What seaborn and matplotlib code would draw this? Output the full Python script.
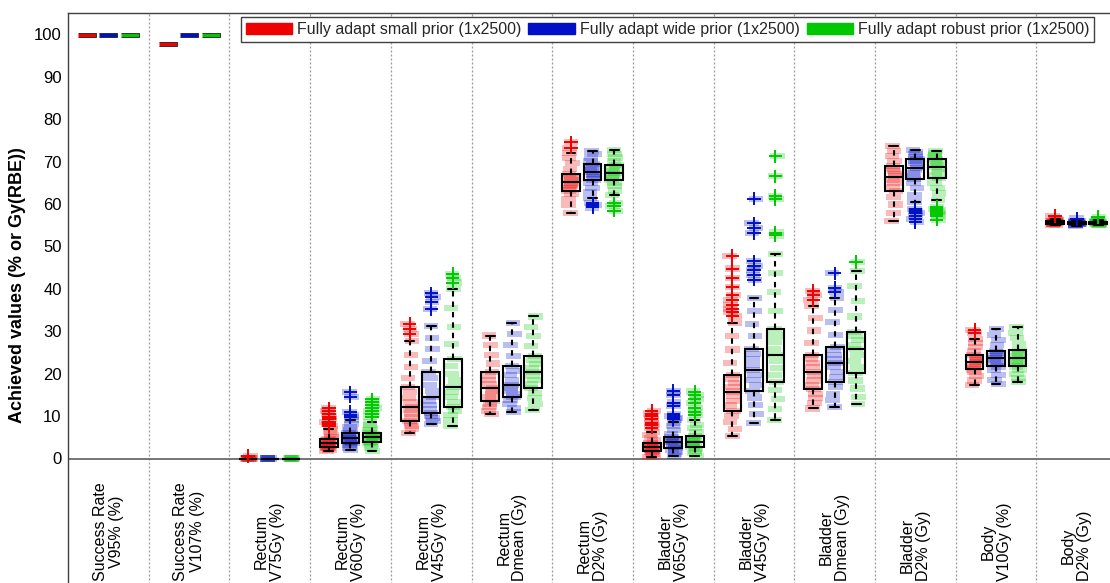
import numpy as np
import pandas as pd
import matplotlib
matplotlib.use("Agg")
import matplotlib.pyplot as plt
from matplotlib.patches import Patch
import seaborn as sns

# ---------------- data ----------------
CATEGORIES = [
    "Success Rate\nV95% (%)", "Success Rate\nV107% (%)",
    "Rectum\nV75Gy (%)", "Rectum\nV60Gy (%)", "Rectum\nV45Gy (%)",
    "Rectum\nDmean (Gy)", "Rectum\nD2% (Gy)",
    "Bladder\nV65Gy (%)", "Bladder\nV45Gy (%)", "Bladder\nDmean (Gy)",
    "Bladder\nD2% (Gy)", "Body\nV10Gy (%)", "Body\nD2% (Gy)",
]
SERIES = [
    "Fully adapt small prior (1x2500)",
    "Fully adapt wide prior (1x2500)",
    "Fully adapt robust prior (1x2500)",
]
SUCCESS_CATS = CATEGORIES[:2]

# sampled values (within whiskers) per category, per series
SMALL_CORE = [
    [100.0],
    [97.7],
    [0.0, 0.0, 0.0, 0.0, 0.0],
    [1.8, 2.1, 2.4, 2.6, 2.8, 3.0, 3.2, 3.4, 3.6, 3.8, 4.0, 4.3, 4.5, 5.0, 5.6, 6.3, 7.0],
    [6.1, 6.9, 7.6, 8.3, 8.9, 9.7, 10.6, 11.4, 12.2, 13.2, 14.3, 15.6, 16.9, 19.0, 21.5, 24.5, 27.7],
    [10.4, 11.3, 12.1, 12.9, 13.6, 14.4, 15.1, 15.9, 16.6, 17.5, 18.5, 19.4, 20.4, 22.4, 24.5, 26.7, 29.0],
    [58.0, 59.8, 61.2, 62.3, 63.2, 63.7, 64.2, 64.6, 65.1, 65.6, 66.1, 66.6, 67.1, 68.3, 69.6, 70.9, 72.1],
    [0.3, 0.7, 1.1, 1.5, 1.8, 2.1, 2.3, 2.6, 2.8, 3.0, 3.2, 3.5, 3.7, 4.3, 4.9, 5.5, 6.2],
    [5.3, 7.0, 8.6, 10.0, 11.3, 12.5, 13.6, 14.7, 15.8, 16.8, 17.8, 18.7, 19.7, 22.6, 25.7, 28.9, 32.0],
    [11.8, 13.0, 14.2, 15.3, 16.3, 17.4, 18.4, 19.5, 20.5, 21.5, 22.5, 23.4, 24.4, 27.3, 30.2, 33.1, 36.0],
    [56.1, 58.0, 59.9, 61.6, 63.1, 64.0, 64.9, 65.7, 66.5, 67.1, 67.8, 68.4, 69.0, 70.2, 71.4, 72.6, 73.8],
    [17.3, 18.4, 19.4, 20.3, 21.0, 21.5, 21.9, 22.4, 22.8, 23.2, 23.6, 24.0, 24.4, 25.3, 26.2, 27.2, 28.1],
    [55.1, 55.2, 55.3, 55.35, 55.4, 55.5, 55.55, 55.6, 55.7, 55.75, 55.8, 55.9, 56.0, 56.1, 56.2, 56.3, 56.4],
]
WIDE_CORE = [
    [100.0],
    [100.0],
    [0.0, 0.0, 0.0, 0.0, 0.0],
    [2.0, 2.6, 3.1, 3.4, 3.7, 4.0, 4.3, 4.5, 4.8, 5.1, 5.4, 5.7, 6.0, 6.6, 7.3, 8.2, 9.1],
    [8.1, 8.8, 9.5, 10.1, 10.7, 11.6, 12.6, 13.6, 14.6, 16.0, 17.4, 18.9, 20.4, 23.0, 25.8, 28.5, 31.3],
    [10.9, 11.9, 12.9, 13.8, 14.6, 15.3, 16.0, 16.6, 17.3, 18.4, 19.6, 20.7, 21.8, 24.2, 26.7, 29.3, 32.0],
    [61.5, 62.8, 63.9, 64.9, 65.8, 66.3, 66.8, 67.2, 67.6, 68.0, 68.5, 68.9, 69.4, 70.2, 71.0, 71.8, 72.5],
    [0.5, 1.1, 1.6, 2.1, 2.5, 2.8, 3.2, 3.5, 3.8, 4.1, 4.4, 4.7, 5.0, 5.8, 6.7, 7.6, 8.5],
    [8.3, 10.5, 12.6, 14.4, 16.0, 17.3, 18.5, 19.7, 20.9, 22.1, 23.4, 24.6, 25.9, 28.8, 31.8, 34.8, 37.8],
    [12.2, 13.7, 15.3, 16.8, 18.1, 19.3, 20.4, 21.5, 22.6, 23.5, 24.5, 25.5, 26.4, 29.2, 32.1, 35.0, 37.8],
    [60.6, 62.2, 63.7, 65.0, 66.0, 66.7, 67.4, 68.0, 68.6, 69.1, 69.6, 70.1, 70.6, 71.2, 71.7, 72.3, 72.8],
    [17.5, 18.6, 19.7, 20.8, 21.7, 22.2, 22.7, 23.2, 23.6, 24.1, 24.5, 25.0, 25.4, 26.7, 28.0, 29.2, 30.5],
    [54.9, 55.0, 55.1, 55.2, 55.3, 55.35, 55.4, 55.45, 55.5, 55.55, 55.6, 55.65, 55.7, 55.8, 55.9, 56.0, 56.1],
]
ROBUST_CORE = [
    [100.0],
    [100.0],
    [0.0, 0.0, 0.0, 0.0, 0.0],
    [1.8, 2.6, 3.2, 3.6, 4.0, 4.3, 4.5, 4.8, 5.0, 5.2, 5.5, 5.8, 6.1, 6.6, 7.2, 7.9, 8.7],
    [7.7, 9.0, 10.2, 11.2, 12.2, 13.3, 14.5, 15.6, 16.8, 18.4, 20.0, 21.8, 23.5, 27.0, 31.0, 35.5, 40.0],
    [11.4, 12.8, 14.2, 15.4, 16.6, 17.5, 18.5, 19.4, 20.3, 21.3, 22.3, 23.3, 24.2, 26.5, 28.8, 31.1, 33.5],
    [62.1, 63.2, 64.2, 65.0, 65.7, 66.2, 66.6, 67.0, 67.4, 67.9, 68.3, 68.8, 69.2, 70.1, 71.0, 71.9, 72.8],
    [0.5, 1.2, 1.8, 2.3, 2.8, 3.1, 3.4, 3.7, 4.0, 4.3, 4.6, 4.9, 5.3, 6.2, 7.1, 8.0, 9.0],
    [9.1, 11.6, 14.0, 16.2, 18.1, 19.7, 21.3, 22.9, 24.4, 25.9, 27.4, 29.0, 30.5, 34.8, 39.2, 43.7, 48.2],
    [12.8, 14.6, 16.5, 18.4, 20.2, 21.6, 23.0, 24.4, 25.8, 26.8, 27.9, 28.9, 29.9, 33.5, 37.1, 40.7, 44.3],
    [61.0, 62.5, 63.9, 65.1, 66.2, 66.9, 67.6, 68.2, 68.7, 69.2, 69.7, 70.2, 70.6, 71.1, 71.6, 72.0, 72.5],
    [18.0, 19.0, 20.0, 20.9, 21.7, 22.2, 22.7, 23.1, 23.6, 24.1, 24.6, 25.1, 25.6, 27.0, 28.4, 29.7, 31.1],
    [55.0, 55.1, 55.2, 55.3, 55.35, 55.4, 55.45, 55.5, 55.6, 55.65, 55.7, 55.75, 55.8, 55.9, 56.0, 56.1, 56.2],
]

# outliers per category, per series
SMALL_OUT = [
    [], [], [0.5],
    [7.6, 8.2, 8.7, 9.3, 9.9, 10.5, 11.1, 11.8],
    [29.3, 30.5, 31.8],
    [],
    [73.3, 74.6],
    [7.3, 7.8, 8.4, 9.4, 10.0, 10.6, 11.3],
    [33.5, 34.5, 35.3, 36.3, 37.4, 38.5, 40.5, 42.5, 44.8, 47.8],
    [37.4, 38.5, 39.6],
    [],
    [29.7, 30.4],
    [57.2],
]
WIDE_OUT = [
    [], [], [],
    [9.8, 10.3, 11.0, 14.6, 15.6],
    [35.2, 37.0, 38.0, 39.0],
    [],
    [59.2, 59.8, 60.2],
    [9.2, 9.6, 10.0, 10.4, 12.5, 13.2, 15.0, 16.0],
    [42.2, 43.3, 44.5, 45.5, 46.5, 53.1, 54.3, 55.5, 61.3],
    [39.3, 40.2, 43.7],
    [55.7, 56.5, 57.2, 57.8, 58.4, 58.9],
    [],
    [56.6],
]
ROBUST_OUT = [
    [], [], [],
    [9.9, 10.5, 11.2, 11.9, 12.6, 13.3, 14.0],
    [41.5, 42.5, 43.5],
    [],
    [58.4, 59.5, 60.2],
    [10.3, 11.0, 12.0, 13.0, 14.0, 15.0, 15.8],
    [52.6, 53.3, 61.2, 62.0, 66.6, 71.3],
    [46.4],
    [56.3, 57.2, 57.7, 58.1, 58.5, 58.9, 59.3],
    [],
    [56.9],
]

Y_TICKS = [0, 10, 20, 30, 40, 50, 60, 70, 80, 90, 100]

# ---------------- styling ----------------
COLORS = ["#f00000", "#0010c8", "#00c800"]
PALETTE = dict(zip(SERIES, COLORS))

sns.set_theme(style="white")
plt.rcParams["font.family"] = ["Liberation Sans", "DejaVu Sans"]

rows = []
for s, core_all, out_all in zip(SERIES, [SMALL_CORE, WIDE_CORE, ROBUST_CORE],
                                [SMALL_OUT, WIDE_OUT, ROBUST_OUT]):
    for cat, core, out in zip(CATEGORIES, core_all, out_all):
        for v in core:
            rows.append((cat, s, v, "core"))
        for v in out:
            rows.append((cat, s, v, "out"))
df = pd.DataFrame(rows, columns=["cat", "series", "val", "kind"])

is_success = df["cat"].isin(SUCCESS_CATS)
box_df = df[(df["kind"] == "core") & ~is_success]
cloud_df = df[~is_success]
succ_df = df[is_success]
out_df = df[(df["kind"] == "out") & ~is_success]

np.random.seed(3)

W, H = 1110, 583
fig = plt.figure(figsize=(W / 100, H / 100), dpi=100)
PX_PER_UNIT = 4.24
ZERO_PX = 458.5
TOP_PX = 13.3
YMAX = (ZERO_PX - TOP_PX) / PX_PER_UNIT
YMIN = -38.0
ax_h_px = (YMAX - YMIN) * PX_PER_UNIT
ax_bottom_px = TOP_PX + ax_h_px
LEFT_PX, CAT_PX = 68.0, 80.7
ax = fig.add_axes([LEFT_PX / W, (H - ax_bottom_px) / H,
                   13 * CAT_PX / W, ax_h_px / H])

streak = [(-1, -0.42), (1, -0.42), (1, 0.42), (-1, 0.42)]
bar = [(-1, -0.26), (1, -0.26), (1, 0.26), (-1, 0.26)]

# point clouds
sns.stripplot(data=cloud_df, x="cat", y="val", hue="series", order=CATEGORIES,
              hue_order=SERIES, palette=PALETTE, dodge=True, jitter=0.1,
              marker=streak, size=10.5, alpha=0.27, linewidth=0, legend=False,
              ax=ax, zorder=1)

# success-rate bars
sns.stripplot(data=succ_df, x="cat", y="val", hue="series", order=CATEGORIES,
              hue_order=SERIES, palette=PALETTE, dodge=True, jitter=False,
              marker=bar, size=13.5, alpha=1, linewidth=0.6,
              edgecolor="#202020", legend=False, ax=ax, zorder=2)

# boxes
sns.boxplot(data=box_df, x="cat", y="val", hue="series", order=CATEGORIES,
            hue_order=SERIES, palette=PALETTE, width=0.8, gap=0.175,
            whis=(0, 100), fill=True, linecolor="black", linewidth=1.5,
            showfliers=False, legend=False, ax=ax,
            boxprops=dict(facecolor="none", zorder=3),
            medianprops=dict(zorder=3),
            whiskerprops=dict(linestyle=(0, (2.6, 2.4)), zorder=3),
            capprops=dict(zorder=3))

# outliers
for s, c in zip(SERIES, COLORS):
    sub = out_df[out_df["series"] == s]
    sns.stripplot(data=sub, x="cat", y="val", hue="series", order=CATEGORIES,
                  hue_order=SERIES, palette=PALETTE, dodge=True, jitter=False,
                  marker="+", size=9.5, linewidth=1.4, edgecolor=c,
                  legend=False, ax=ax, zorder=4)

# axes cosmetics
ax.set_xlim(-0.5, len(CATEGORIES) - 0.5)
ax.set_ylim(YMIN, YMAX)
ax.set_xticks([])
ax.set_yticks(Y_TICKS)
ax.set_yticklabels([str(t) for t in Y_TICKS], fontsize=12, color="black")
ax.tick_params(axis="y", length=0, pad=4.5)
ax.set_xlabel("")
ax.set_ylabel("")
for side in ["left", "top", "right", "bottom"]:
    ax.spines[side].set_color("#404040")
    ax.spines[side].set_linewidth(1.0)

for b in np.arange(0.5, len(CATEGORIES) - 0.5, 1.0):
    ax.axvline(b, color="#9a9a9a", lw=0.9, ls=(0, (1.6, 1.6)), zorder=0)
ax.axhline(0, color="#6a6a6a", lw=1.3, zorder=0.5)

LABEL_Y = -(581 - ZERO_PX) / PX_PER_UNIT
for i, cat in enumerate(CATEGORIES):
    ax.text(i, LABEL_Y, cat, rotation=90, ha="center", va="bottom",
            fontsize=11.5, linespacing=1.1, color="black", clip_on=False)

fig.text(18 / W, 1 - 285 / H, "Achieved values (% or Gy(RBE))",
         rotation=90, ha="center", va="center", fontsize=13,
         fontweight="bold", color="black")

handles = [Patch(facecolor=c, edgecolor=c) for c in COLORS]
leg = ax.legend(handles, SERIES, ncol=3, loc="upper right",
                bbox_to_anchor=(1094 / W, 1 - 17 / H),
                bbox_transform=fig.transFigure, frameon=True, fancybox=False,
                edgecolor="#404040", framealpha=1, fontsize=11.5,
                handlelength=2.9, handleheight=0.65, handletextpad=0.3,
                columnspacing=0.45, borderpad=0.3, borderaxespad=0)
leg.get_frame().set_linewidth(1.0)

fig.savefig("out.png", dpi=100)
